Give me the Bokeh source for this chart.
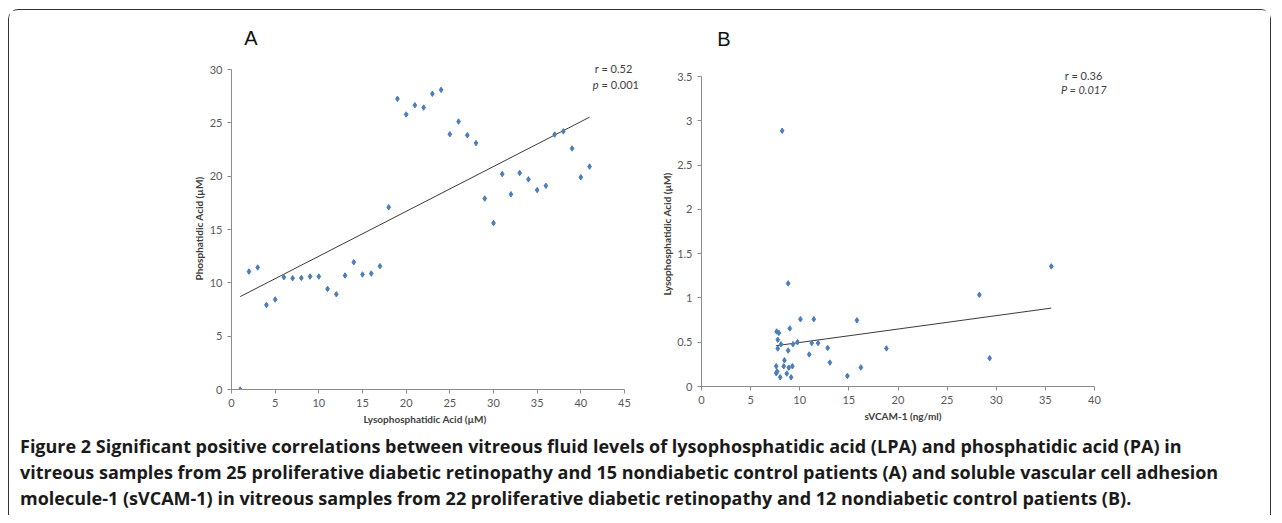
import numpy as np
from bokeh.plotting import figure
from bokeh.layouts import row, column
from bokeh.models import Range1d, FixedTicker, Label, Title
from bokeh.embed import file_html
from bokeh.resources import INLINE
from bokeh.core.properties import value

# ---------------- data ----------------
# Panel A: LPA (x) vs PA (y)
lpa_a = list(range(1, 42))
pa_a = [0.0, 11.06, 11.44, 7.93, 8.44, 10.53, 10.43, 10.46, 10.59, 10.59, 9.43,
        8.93, 10.69, 11.93, 10.78, 10.87, 11.56, 17.09, 27.25, 25.78, 26.65,
        26.43, 27.72, 28.09, 23.93, 25.12, 23.84, 23.1, 17.9, 15.6, 20.2,
        18.3, 20.3, 19.7, 18.7, 19.1, 23.9, 24.2, 22.6, 19.9, 20.9]
xticks_a = [0, 5, 10, 15, 20, 25, 30, 35, 40, 45]
yticks_a = [0, 5, 10, 15, 20, 25, 30]

# Panel B: sVCAM-1 (x) vs LPA (y)
svcam_b = [8.21, 8.82, 7.65, 7.88, 8.99, 10.07, 11.43, 15.82, 7.76, 8.09, 7.76,
           8.82, 9.31, 9.77, 11.22, 11.87, 12.84, 10.96, 8.44, 13.07, 18.82,
           7.60, 8.37, 8.88, 9.25, 16.22, 7.60, 7.70, 8.68, 8.01, 9.12, 14.85,
           28.28, 29.33, 35.6]
lpa_b = [2.887, 1.164, 0.621, 0.605, 0.655, 0.76, 0.76, 0.747, 0.528, 0.477,
         0.429, 0.406, 0.477, 0.50, 0.49, 0.49, 0.436, 0.362, 0.296, 0.27,
         0.43, 0.229, 0.229, 0.213, 0.229, 0.215, 0.15, 0.17, 0.146, 0.104,
         0.104, 0.119, 1.035, 0.319, 1.356]
xticks_b = [0, 5, 10, 15, 20, 25, 30, 35, 40]
yticks_b = [0, 0.5, 1, 1.5, 2, 2.5, 3, 3.5]
ylabels_b = ["0", "0.5", "1", "1.5", "2", "2.5", "3", "3.5"]

caption_lines = [
    "Figure 2 Significant positive correlations between vitreous fluid levels of lysophosphatidic acid (LPA) and phosphatidic acid (PA) in",
    "vitreous samples from 25 proliferative diabetic retinopathy and 15 nondiabetic control patients (A) and soluble vascular cell adhesion",
    "molecule-1 (sVCAM-1) in vitreous samples from 22 proliferative diabetic retinopathy and 12 nondiabetic control patients (B).",
]

# ---------------- style ----------------
BLUE = "#4A7EBB"
AXC = "#8C8C8C"
TXT = "#404040"
TF = "Lato"


def style_axes(p):
    p.outline_line_color = None
    p.grid.visible = False
    p.background_fill_color = "white"
    p.border_fill_color = "white"
    for ax in p.axis:
        ax.axis_line_color = AXC
        ax.major_tick_line_color = AXC
        ax.minor_tick_line_color = None
        ax.major_tick_out = 4
        ax.major_tick_in = 0
        ax.major_label_text_font = TF
        ax.major_label_text_font_size = "11px"
        ax.major_label_text_color = "#595959"
        ax.major_label_standoff = 5


def axis_title(p, text, side, offset):
    p.add_layout(Title(text=text, align="left", offset=offset, standoff=3,
                       text_font=TF, text_font_size="10px", text_font_style="bold",
                       text_color=TXT), side)


def fit_line(xs, ys):
    k, b = np.polyfit(np.array(xs), np.array(ys), 1)
    x0, x1 = min(xs), max(xs)
    return [x0, x1], [k * x0 + b, k * x1 + b]


# ---------------- panel A ----------------
# frame extends to top/right edge of its area so texts there are not clipped;
# axis lines are limited to the data extent with bounds
ax_px = 393 / 45.0
ay_px = 320 / 30.0
pA = figure(frame_width=418, frame_height=379, min_border_left=222, min_border_right=0,
            min_border_top=0, min_border_bottom=42,
            x_range=Range1d(0, 418 / ax_px), y_range=Range1d(0, 379 / ay_px),
            output_backend="svg", toolbar_location=None)
style_axes(pA)
pA.xaxis.bounds = (0, 45)
pA.yaxis.bounds = (0, 30)
pA.xaxis.ticker = FixedTicker(ticks=xticks_a)
pA.yaxis.ticker = FixedTicker(ticks=yticks_a)
axis_title(pA, "Lysophosphatidic Acid (µM)", "below", 132)
axis_title(pA, "Phosphatidic Acid (µM)", "left", 109)
fx, fy = fit_line(lpa_a, pa_a)
pA.line(fx, fy, line_color="#3a3a3a", line_width=1)
pA.scatter(lpa_a, pa_a, marker="diamond", size=5.5, fill_color=BLUE, line_color=BLUE)

pA.add_layout(Label(x=2.23, y=32.95, text="A", text_font="Liberation Sans",
                    text_font_size="20px", text_color="#111111",
                    text_align="center", text_baseline="middle"))
pA.add_layout(Label(x=43.76, y=30.07, text="r = 0.52", text_font=TF,
                    text_font_size="11px", text_color=TXT,
                    text_align="center", text_baseline="middle"))
pA.add_layout(Label(x=41.36, y=28.61, text="p", text_font=TF,
                    text_font_size="11px", text_font_style="italic", text_color=TXT,
                    text_align="left", text_baseline="middle"))
pA.add_layout(Label(x=42.38, y=28.61, text="= 0.001", text_font=TF,
                    text_font_size="11px", text_color=TXT,
                    text_align="left", text_baseline="middle"))

# ---------------- panel B ----------------
bx_px = 393 / 40.0
by_px = 310 / 3.5
pB = figure(frame_width=569, frame_height=376, min_border_left=52, min_border_right=0,
            min_border_top=0, min_border_bottom=45,
            x_range=Range1d(0, 569 / bx_px), y_range=Range1d(0, 376 / by_px),
            output_backend="svg", toolbar_location=None)
style_axes(pB)
pB.xaxis.bounds = (0, 40)
pB.yaxis.bounds = (0, 3.5)
pB.xaxis.ticker = FixedTicker(ticks=xticks_b)
pB.yaxis.ticker = FixedTicker(ticks=yticks_b)
pB.yaxis.major_label_overrides = {t: l for t, l in zip(yticks_b, ylabels_b)}
axis_title(pB, "sVCAM-1 (ng/ml)", "below", 163)
axis_title(pB, "Lysophosphatidic Acid (µM)", "left", 91)
gx, gy = fit_line(svcam_b, lpa_b)
pB.line(gx, gy, line_color="#3a3a3a", line_width=1)
pB.scatter(svcam_b, lpa_b, marker="diamond", size=5.5, fill_color=BLUE, line_color=BLUE)

pB.add_layout(Label(x=2.29, y=3.923, text="B", text_font="Liberation Sans",
                    text_font_size="20px", text_color="#111111",
                    text_align="center", text_baseline="middle"))
pB.add_layout(Label(x=38.9, y=3.513, text="r = 0.36", text_font=TF,
                    text_font_size="11px", text_color=TXT,
                    text_align="center", text_baseline="middle"))
pB.add_layout(Label(x=38.92, y=3.348, text="P = 0.017", text_font=TF,
                    text_font_size="11px", text_font_style="italic", text_color=TXT,
                    text_align="center", text_baseline="middle"))

# ---------------- caption ----------------
pC = figure(frame_width=1261, frame_height=84, min_border=0,
            x_range=Range1d(0, 1261), y_range=Range1d(84, 0),
            x_axis_location=None, y_axis_location=None,
            output_backend="svg", toolbar_location=None)
pC.outline_line_color = None
pC.grid.visible = False
pC.text(x=[10.5, 10.5, 10.5], y=[14.5, 40.5, 66.5], text=caption_lines,
        text_font=value("Open Sans"), text_font_size="18px", text_font_style="bold",
        text_color="#1a1a1a", text_baseline="middle", text_align="left")

layout = column(row(pA, pB), pC, margin=(9, 0, 0, 8),
                styles={"border": "1.5px solid #333333", "border-bottom": "none",
                        "border-radius": "10px 10px 0 0", "background": "white"})

open("out.html", "w").write(file_html(layout, INLINE))
